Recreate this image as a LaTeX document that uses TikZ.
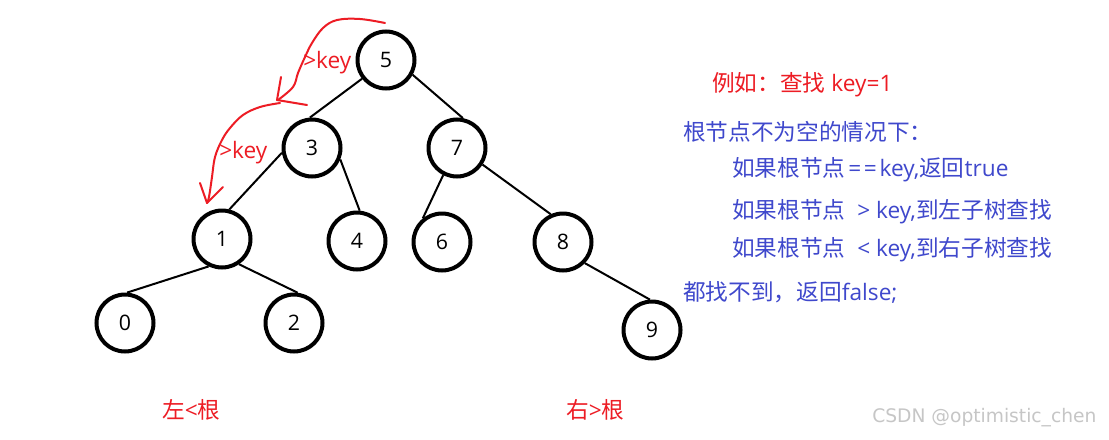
\documentclass[tikz,border=0pt]{standalone}
\usepackage{fontspec}
\setmainfont{Open Sans}
\newfontfamily\cjk{Noto Sans CJK SC}
\newfontfamily\wmfont{DejaVu Sans}
\newcommand{\zh}[1]{{\cjk #1}}
\usetikzlibrary{arrows.meta, positioning}
\definecolor{pred}{RGB}{237,28,36}
\definecolor{pblue}{RGB}{63,72,204}

\begin{document}
\begin{tikzpicture}[
    x=0.75pt, y=-0.75pt,
    bst/.style={circle, draw, line width=3pt, minimum size=42.75pt, inner sep=0pt, font=\fontsize{16}{16}\selectfont}, % 树节点
    edge/.style={line width=1.5pt},                                   % 树边
    redpen/.style={draw=pred, line width=1.5pt, line cap=round, line join=round},
    redtxt/.style={text=pred, inner sep=0pt, font=\fontsize{17}{17}\selectfont},
    bluetxt/.style={text=pblue, inner sep=0pt, font=\fontsize{17}{17}\selectfont}
]
\useasboundingbox[fill=white] (0,0) rectangle (1109,439);

% 二叉搜索树节点
\node[bst] (n5) at (386,60) {5};
\node[bst] (n3) at (312,148) {3};
\node[bst] (n7) at (457,148) {7};
\node[bst] (n1) at (222,239) {1};
\node[bst] (n4) at (357,241) {4};
\node[bst] (n6) at (442,242) {6};
\node[bst] (n8) at (563,242) {8};
\node[bst] (n0) at (125,323) {0};
\node[bst] (n2) at (294,323) {2};
\node[bst] (n9) at (652,330) {9};

% 边
\draw[edge] (n5.218) -- (n3.94);
\draw[edge] (n5.331) -- (n7.79);
\draw[edge] (n3.189) -- (n1.76);
\draw[edge] (n3.338) -- (n4.85);
\draw[edge] (n7.243) -- (n6.129);
\draw[edge] (n7.327) -- (n8.114);
\draw[edge] (n1.244) -- (n0.86);
\draw[edge] (n1.304) -- (n2.83);
\draw[edge] (n8.316) -- (n9.94);

% 查找路径 (手绘红线)
\draw[redpen] plot[smooth, tension=0.6] coordinates {(385,23) (360,19) (337,20) (323,28) (312,43) (305,57) (298,73) (293,87) (278,100)};
\draw[redpen] (281,77) -- (277,100) -- (307,105);
\draw[redpen] plot[smooth, tension=0.6] coordinates {(280,103) (260,107) (243,115) (230,128) (222,140) (215,157) (212,177) (209,197) (207,203)};
\draw[redpen] (200,183) -- (207,203) -- (223,187);
\node[redtxt, anchor=west] (k1) at (303,63) {>key};
\node[redtxt, anchor=west] (k2) at (219,153) {>key};

% 说明文字
\node[redtxt, anchor=west] (ex) at (712,85) {\zh{例如：查找} key=1};
\node[bluetxt, anchor=west] (l1) at (683,132) {\zh{根节点不为空的情况下：}};
\node[bluetxt, anchor=west] (l2) at (732,170) {\zh{如果根节点}\kern2pt=\kern2pt=\kern2pt key,\zh{返回}true};
\node[bluetxt, anchor=west] (l3) at (732,212) {\zh{如果根节点}\ \ > key,\zh{到左子树查找}};
\node[bluetxt, anchor=west] (l4) at (732,250) {\zh{如果根节点}\ \ < key,\zh{到右子树查找}};
\node[bluetxt, anchor=west] (l5) at (683,292) {\zh{都找不到，返回}false;};

% 底部标签
\node[redtxt, anchor=west] (lt) at (162,410) {\zh{左}<\zh{根}};
\node[redtxt, anchor=west] (gt) at (566,410) {\zh{右}>\zh{根}};
\node[anchor=west, inner sep=0pt, text=gray!45, font=\wmfont\fontsize{14}{14}\selectfont] (wm) at (872,418) {CSDN @optimistic\_chen};
\end{tikzpicture}
\end{document}
